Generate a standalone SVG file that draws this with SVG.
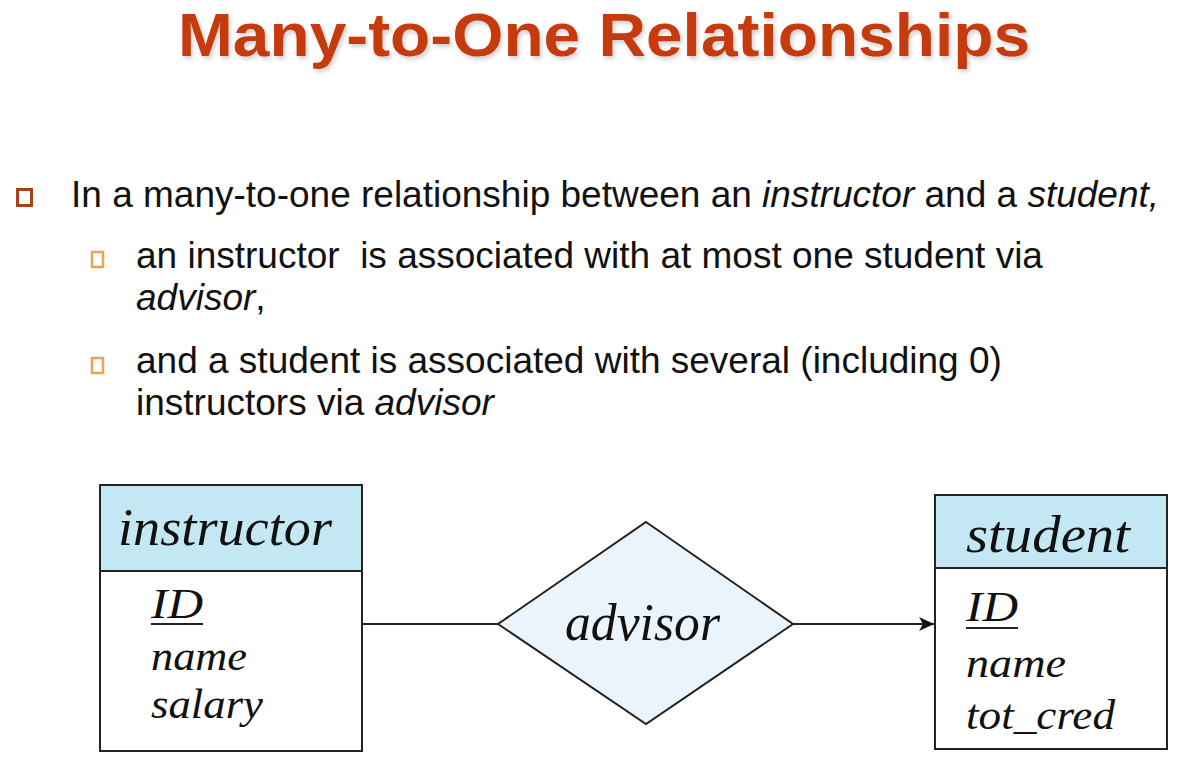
<svg xmlns="http://www.w3.org/2000/svg" width="1194" height="765" viewBox="0 0 1194 765">
  <style>
    .title { font-family: "Liberation Sans", Arial, sans-serif; font-weight: bold; font-size: 62px; fill: #c63a0c; }
    .body { font-family: "Liberation Sans", Arial, sans-serif; font-size: 37px; fill: #111; }
    .it { font-style: italic; }
    .er { font-family: "Liberation Serif", "Times New Roman", serif; font-style: italic; fill: #111; }
    .hdr { font-size: 52px; }
    .attr { font-size: 42px; }
    .box { fill: #fff; stroke: #222; stroke-width: 2; }
    .head { fill: #c4e8f3; stroke: #222; stroke-width: 2; }
    .rel { fill: #eaf4fc; stroke: #222; stroke-width: 2; }
    .conn { stroke: #222; stroke-width: 2; fill: none; }
    .b1 { fill: none; stroke: #a8401c; stroke-width: 3; }
    .b2 { fill: none; stroke: #e8a356; stroke-width: 2.5; }
    .ul { stroke: #222; stroke-width: 2; }
  </style>
  <defs>
    <filter id="shadow" x="-5%" y="-20%" width="110%" height="150%">
      <feDropShadow dx="2" dy="3" stdDeviation="2" flood-color="#000" flood-opacity="0.18"/>
    </filter>
    <marker id="arrow" markerWidth="16" markerHeight="14" refX="15" refY="7" orient="auto" markerUnits="userSpaceOnUse">
      <path d="M0,0 L15,7 L0,14 L4,7 Z" fill="#111"/>
    </marker>
  </defs>
  <rect width="1194" height="765" fill="#fff"/>

  <g id="title">
    <text class="title" x="178" y="56" textLength="852" lengthAdjust="spacingAndGlyphs" filter="url(#shadow)">Many-to-One Relationships</text>
  </g>

  <g id="bullets">
    <rect class="b1" x="17.5" y="189.5" width="14" height="16"/>
    <text class="body" x="71" y="207">In a many-to-one relationship between an <tspan class="it">instructor</tspan> and a <tspan class="it">student,</tspan></text>
    <rect class="b2" x="92" y="252" width="11" height="15"/>
    <text class="body" x="136" y="268" xml:space="preserve">an instructor  is associated with at most one student via</text>
    <text class="body" x="136" y="310"><tspan class="it">advisor</tspan>,</text>
    <rect class="b2" x="92" y="358" width="11" height="15"/>
    <text class="body" x="136" y="373">and a student is associated with several (including 0)</text>
    <text class="body" x="136" y="415">instructors via <tspan class="it">advisor</tspan></text>
  </g>

  <g id="connectors">
    <line class="conn" x1="362" y1="624" x2="498" y2="624"/>
    <line class="conn" x1="793" y1="624" x2="934" y2="624" marker-end="url(#arrow)"/>
  </g>

  <g id="instructor">
    <rect class="box" x="100" y="485" width="262" height="266"/>
    <rect class="head" x="100" y="485" width="262" height="86"/>
    <text class="er hdr" x="118" y="545" textLength="214" lengthAdjust="spacingAndGlyphs">instructor</text>
    <text class="er attr" x="151" y="618" textLength="52" lengthAdjust="spacingAndGlyphs">ID</text>
    <line class="ul" x1="151" y1="624" x2="203" y2="624"/>
    <text class="er attr" x="151" y="670" textLength="96" lengthAdjust="spacingAndGlyphs">name</text>
    <text class="er attr" x="151" y="718" textLength="112" lengthAdjust="spacingAndGlyphs">salary</text>
  </g>

  <g id="advisor">
    <polygon class="rel" points="646,522 793,624 646,724 498,624"/>
    <text class="er hdr" x="565" y="640" textLength="155" lengthAdjust="spacingAndGlyphs">advisor</text>
  </g>

  <g id="student">
    <rect class="box" x="935" y="495" width="232" height="254"/>
    <rect class="head" x="935" y="495" width="232" height="73"/>
    <text class="er hdr" x="966" y="552" textLength="164" lengthAdjust="spacingAndGlyphs">student</text>
    <text class="er attr" x="966" y="621" textLength="52" lengthAdjust="spacingAndGlyphs">ID</text>
    <line class="ul" x1="966" y1="628" x2="1018" y2="628"/>
    <text class="er attr" x="966" y="677" textLength="100" lengthAdjust="spacingAndGlyphs">name</text>
    <text class="er attr" x="966" y="729" textLength="149" lengthAdjust="spacingAndGlyphs">tot_cred</text>
  </g>
</svg>
